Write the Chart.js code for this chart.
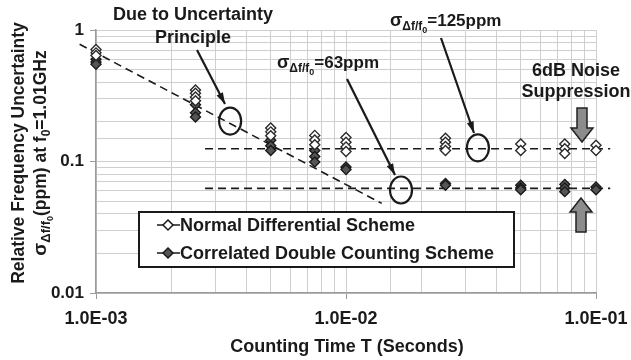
<!DOCTYPE html>
<html lang="en">
<head>
<meta charset="UTF-8">
<title>Counting time vs frequency uncertainty</title>
<script src="https://cdn.jsdelivr.net/npm/chart.js@4"></script>
<style>
  body { margin: 0; background: #fff; }
</style>
</head>
<body>
<canvas id="myChart" width="631" height="360"></canvas>
<script>
// counting times (seconds) where the runs were taken
const countingTimes = [0.001, 0.0025, 0.005, 0.0075, 0.01, 0.025, 0.05, 0.075, 0.1];

// repeated measurements (ppm) at each counting time
const normalRuns = [
  [0.71, 0.67, 0.64],
  [0.35, 0.33, 0.31, 0.29],
  [0.18, 0.168, 0.157],
  [0.158, 0.146, 0.134],
  [0.152, 0.140, 0.129, 0.119],
  [0.150, 0.140, 0.130, 0.121],
  [0.136, 0.121],
  [0.136, 0.125, 0.115],
  [0.133, 0.121]
];
const correlatedRuns = [
  [0.60, 0.57, 0.55],
  [0.27, 0.235, 0.218],
  [0.145, 0.132, 0.121],
  [0.121, 0.109, 0.099],
  [0.091, 0.087],
  [0.068, 0.066],
  [0.066, 0.063, 0.061],
  [0.067, 0.063, 0.059],
  [0.064, 0.061]
];

// reference lines
const uncertaintyLineT = [0.00086, 0.0139];
const uncertaintyLineV = [0.78, 0.048];
const floorLineT = [0.00273, 0.114];
const normalFloor = 0.125;
const correlatedFloor = 0.0625;

const yTickLabels = { '1': '1', '0.1': '0.1', '0.01': '0.01' };

function toPoints(runs) {
  const pts = [];
  runs.forEach((vals, i) => vals.forEach(v => pts.push({ x: countingTimes[i], y: v })));
  return pts;
}

function isDecade(v) {
  const l = Math.log10(v);
  return Math.abs(l - Math.round(l)) < 1e-9;
}

function fmtSci(v) {
  const e = Math.round(Math.log10(v));
  return '1.0E' + (e < 0 ? '-' : '+') + String(Math.abs(e)).padStart(2, '0');
}

const FONT = '"Liberation Sans", Arial, sans-serif';
const INK = '#1a1a1a';

// draw a run of text pieces with sizes / baseline offsets (for subscripts)
function richText(ctx, runs, x, y, align) {
  let w = 0;
  runs.forEach(r => { ctx.font = 'bold ' + r.size + 'px ' + FONT; w += ctx.measureText(r.t).width; });
  let cx = align === 'center' ? x - w / 2 : x;
  ctx.textAlign = 'left';
  ctx.textBaseline = 'alphabetic';
  runs.forEach(r => {
    ctx.font = 'bold ' + r.size + 'px ' + FONT;
    ctx.fillText(r.t, cx, y + (r.dy || 0));
    cx += ctx.measureText(r.t).width;
  });
}

function sigmaRuns(rest) {
  return [
    { t: 'σ', size: 18 },
    { t: 'Δf/f', size: 12, dy: 4 },
    { t: '0', size: 9, dy: 7 },
    { t: rest, size: 17 }
  ];
}

function arrowLine(ctx, x1, y1, x2, y2) {
  ctx.beginPath();
  ctx.moveTo(x1, y1);
  ctx.lineTo(x2, y2);
  ctx.stroke();
  const a = Math.atan2(y2 - y1, x2 - x1);
  const L = 12, W = 0.3;
  ctx.beginPath();
  ctx.moveTo(x2, y2);
  ctx.lineTo(x2 - L * Math.cos(a - W), y2 - L * Math.sin(a - W));
  ctx.lineTo(x2 - L * Math.cos(a + W), y2 - L * Math.sin(a + W));
  ctx.closePath();
  ctx.fill();
}

function blockArrow(ctx, x, yTail, yTip) {
  const dir = yTip > yTail ? 1 : -1;
  const headLen = 14, shaftW = 5, headW = 11;
  const yHead = yTip - dir * headLen;
  ctx.beginPath();
  ctx.moveTo(x - shaftW, yTail);
  ctx.lineTo(x + shaftW, yTail);
  ctx.lineTo(x + shaftW, yHead);
  ctx.lineTo(x + headW, yHead);
  ctx.lineTo(x, yTip);
  ctx.lineTo(x - headW, yHead);
  ctx.lineTo(x - shaftW, yHead);
  ctx.closePath();
  ctx.fillStyle = '#8c8c8c';
  ctx.fill();
  ctx.strokeStyle = '#222';
  ctx.lineWidth = 1.5;
  ctx.stroke();
}

const annotations = {
  id: 'annotations',
  afterDatasetsDraw(chart) {
    const ctx = chart.ctx;
    const xs = chart.scales.x, ys = chart.scales.y;
    const px = v => xs.getPixelForValue(v);
    const py = v => ys.getPixelForValue(v);
    ctx.save();
    ctx.strokeStyle = INK;
    ctx.fillStyle = INK;

    // circled spots
    const rings = [[0.00344, 0.203], [0.0166, 0.0607], [0.0337, 0.127]];
    ctx.lineWidth = 2.2;
    rings.forEach(r => {
      ctx.beginPath();
      ctx.ellipse(px(r[0]), py(r[1]), 11, 13.5, 0, 0, Math.PI * 2);
      ctx.stroke();
    });

    // pointer arrows
    ctx.lineWidth = 2.2;
    arrowLine(ctx, 197, 50, 225, 104);
    arrowLine(ctx, 347, 79, 395, 175);
    arrowLine(ctx, 441, 38, 474, 133);

    // labels
    ctx.fillStyle = INK;
    ctx.font = 'bold 18px ' + FONT;
    ctx.textAlign = 'center';
    ctx.textBaseline = 'middle';
    ctx.fillText('Due to Uncertainty', 193, 15);
    ctx.fillText('Principle', 193, 38);
    ctx.fillText('6dB Noise', 576, 71);
    ctx.fillText('Suppression', 576, 92);
    richText(ctx, sigmaRuns('=63ppm'), 277, 68, 'left');
    richText(ctx, sigmaRuns('=125ppm'), 390, 26, 'left');

    // grey block arrows
    blockArrow(ctx, 582, 108, 142);
    blockArrow(ctx, 581, 232, 198);

    ctx.restore();
  },
  afterDraw(chart) {
    const ctx = chart.ctx;
    ctx.save();
    // legend box
    ctx.fillStyle = '#fff';
    ctx.fillRect(139, 212, 375, 55);
    ctx.strokeStyle = INK;
    ctx.lineWidth = 2;
    ctx.strokeRect(139, 212, 375, 55);
    const rows = [
      { label: 'Normal Differential Scheme', fill: '#fff', y: 225 },
      { label: 'Correlated Double Counting Scheme', fill: '#555', y: 253 }
    ];
    rows.forEach(r => {
      ctx.strokeStyle = INK;
      ctx.lineWidth = 1.5;
      ctx.beginPath();
      ctx.moveTo(157, r.y);
      ctx.lineTo(180, r.y);
      ctx.stroke();
      ctx.beginPath();
      ctx.moveTo(168, r.y - 5);
      ctx.lineTo(173, r.y);
      ctx.lineTo(168, r.y + 5);
      ctx.lineTo(163, r.y);
      ctx.closePath();
      ctx.fillStyle = r.fill;
      ctx.fill();
      ctx.stroke();
      ctx.fillStyle = INK;
      ctx.font = 'bold 18px ' + FONT;
      ctx.textAlign = 'left';
      ctx.textBaseline = 'middle';
      ctx.fillText(r.label, 180, r.y + 1);
    });

    // y axis title (two rotated lines)
    ctx.save();
    ctx.translate(24, 153);
    ctx.rotate(-Math.PI / 2);
    ctx.fillStyle = INK;
    richText(ctx, [{ t: 'Relative Frequency Uncertainty', size: 17.5 }], 0, 0, 'center');
    richText(ctx, [
      { t: 'σ', size: 19 },
      { t: 'Δf/f', size: 13, dy: 4 },
      { t: '0', size: 9, dy: 7 },
      { t: '(ppm) at f', size: 17.5 },
      { t: '0', size: 12, dy: 4 },
      { t: '=1.01GHz', size: 17.5 }
    ], 0, 22, 'center');
    ctx.restore();

    // x axis title
    ctx.fillStyle = INK;
    ctx.font = 'bold 18px ' + FONT;
    ctx.textAlign = 'center';
    ctx.textBaseline = 'middle';
    ctx.fillText('Counting Time T (Seconds)', 347, 347);
    ctx.restore();
  }
};

const dashed = {
  borderColor: INK,
  borderWidth: 1.6,
  borderDash: [8, 5],
  pointRadius: 0,
  showLine: true,
  fill: false,
  clip: false
};

new Chart(document.getElementById('myChart').getContext('2d'), {
  type: 'scatter',
  data: {
    datasets: [
      {
        label: 'Normal Differential Scheme',
        data: toPoints(normalRuns),
        pointStyle: 'rectRot',
        pointRadius: 5,
        backgroundColor: '#fff',
        borderColor: '#2a2a2a',
        borderWidth: 1.4,
        clip: false
      },
      {
        label: 'Correlated Double Counting Scheme',
        data: toPoints(correlatedRuns),
        pointStyle: 'rectRot',
        pointRadius: 5,
        backgroundColor: '#555',
        borderColor: '#1a1a1a',
        borderWidth: 1.4,
        clip: false
      },
      Object.assign({ label: 'uncertainty', data: uncertaintyLineT.map((t, i) => ({ x: t, y: uncertaintyLineV[i] })) }, dashed),
      Object.assign({ label: 'normal floor', data: floorLineT.map(t => ({ x: t, y: normalFloor })) }, dashed),
      Object.assign({ label: 'correlated floor', data: floorLineT.map(t => ({ x: t, y: correlatedFloor })) }, dashed)
    ]
  },
  options: {
    responsive: false,
    animation: false,
    layout: { padding: { left: 0, right: 35, top: 30, bottom: 0 } },
    plugins: {
      legend: { display: false },
      tooltip: { enabled: false }
    },
    scales: {
      x: {
        type: 'logarithmic',
        min: 0.001,
        max: 0.1,
        afterFit(s) { s.height = 67; s.paddingLeft = 0; s.paddingRight = 0; },
        border: { color: '#9a9a9a', width: 1.5 },
        grid: {
          color: '#cfcfcf',
          lineWidth: 1,
          tickLength: 6,
          tickColor: c => (c.tick && isDecade(c.tick.value)) ? '#9a9a9a' : 'rgba(0,0,0,0)'
        },
        ticks: {
          autoSkip: false,
          maxRotation: 0,
          padding: 9,
          color: INK,
          font: { family: FONT, size: 18, weight: 'bold' },
          callback: v => isDecade(v) ? fmtSci(v) : ''
        }
      },
      y: {
        type: 'logarithmic',
        min: 0.01,
        max: 1,
        afterFit(s) { s.width = 96; s.paddingTop = 0; s.paddingBottom = 0; },
        border: { color: '#9a9a9a', width: 1.5 },
        grid: {
          color: '#cfcfcf',
          lineWidth: 1,
          tickLength: 6,
          tickColor: c => (c.tick && isDecade(c.tick.value)) ? '#9a9a9a' : 'rgba(0,0,0,0)'
        },
        ticks: {
          autoSkip: false,
          padding: 6,
          color: INK,
          font: { family: FONT, size: 17, weight: 'bold' },
          callback: v => yTickLabels[String(v)] || ''
        }
      }
    }
  },
  plugins: [annotations]
});
</script>
</body>
</html>
